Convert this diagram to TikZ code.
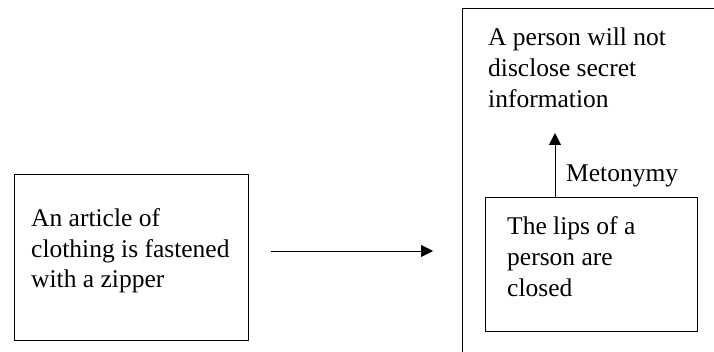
\documentclass[tikz,border=0pt]{standalone}
\usepackage{fontspec}
\setmainfont{Liberation Serif}
\usetikzlibrary{arrows.meta,positioning}
\tikzset{
	box/.style={draw, line width=0.9pt, inner sep=0pt},
	txt/.style={inner sep=0pt, align=left, font=\fontsize{25.5}{31}\selectfont},
	arr/.style={line width=0.9pt, -{Triangle[length=12pt,width=12pt]}}
}
\begin{document}
\begin{tikzpicture}[x=1pt,y=-1pt]
		\useasboundingbox (0,0) rectangle (714,352);
		\clip (0,0) rectangle (714,352);
		% left box
		\node[box, minimum width=234pt, minimum height=166pt] (clothing) at (131,257) {};
		\node[txt, anchor=base west] (clothingtxt) at (31,288) {An article of\\clothing is fastened\\with a zipper};
		% right box, cut off by the page
		\node[box, minimum width=300pt, minimum height=400pt, anchor=north west] (meaning) at (462,8) {};
		\node[txt, anchor=base west] (secrettxt) at (488,108) {A person will not\\disclose secret\\information};
		% inner box
		\node[box, minimum width=212pt, minimum height=134pt] (lips) at (591,264) {};
		\node[txt, anchor=base west] (lipstxt) at (507,297) {The lips of a\\person are\\closed};
		% arrows
		\coordinate (zipstart) at (271,251);
		\coordinate (zipend) at (433,251);
		\draw[arr] (zipstart) -- (zipend);
		\coordinate (liptop) at (555,197);
		\coordinate (secretbottom) at (555,133);
		\draw[arr] (liptop) -- (secretbottom);
		\node[txt, anchor=base west] (metonymy) at (566,182) {Metonymy};
	    \end{tikzpicture}
\end{document}
